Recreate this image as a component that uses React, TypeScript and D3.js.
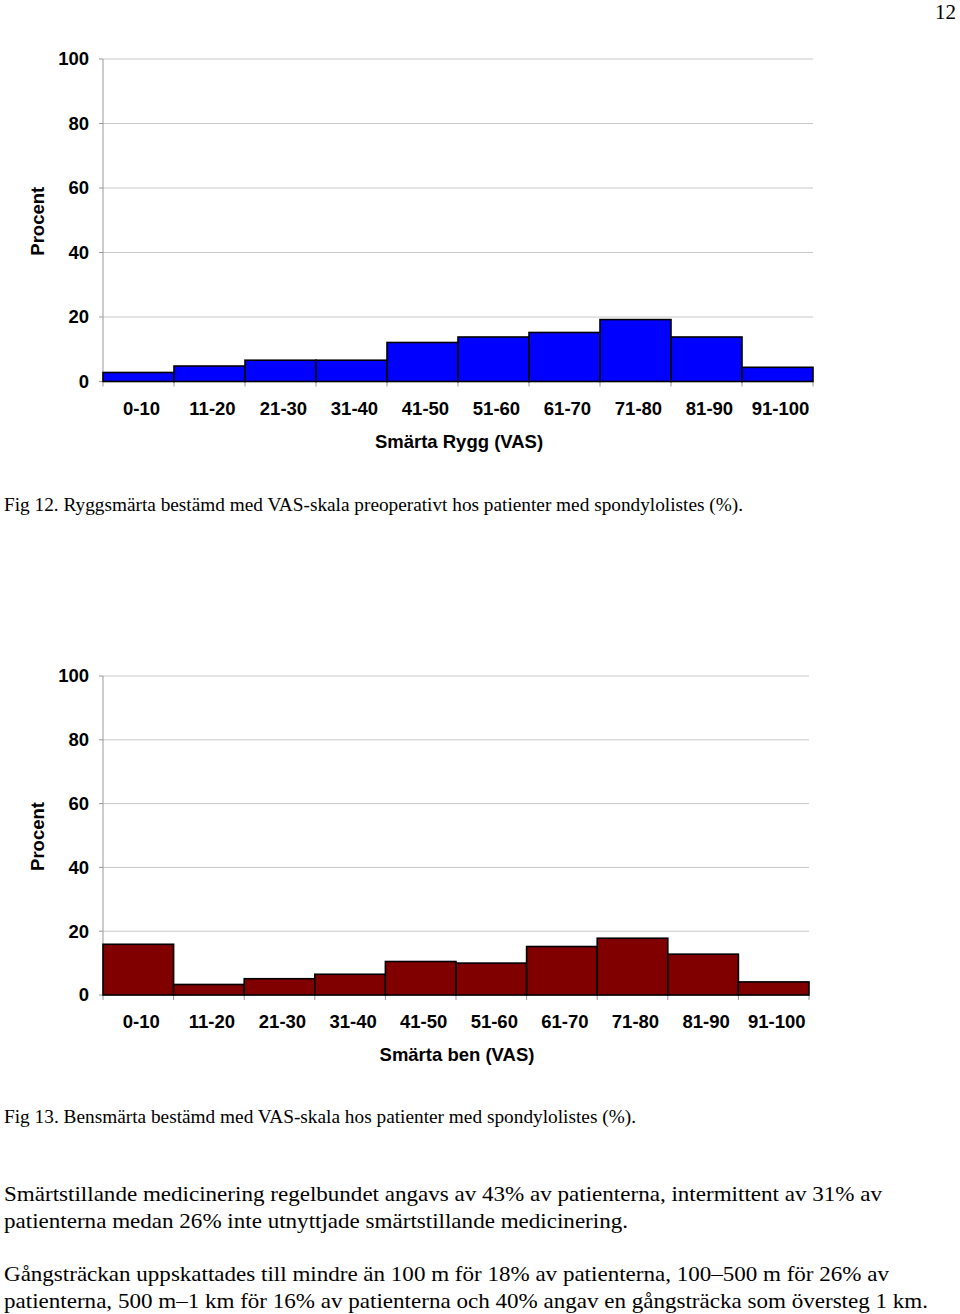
import React from "react";
import * as d3 from "d3";

const categories = ["0-10", "11-20", "21-30", "31-40", "41-50", "51-60", "61-70", "71-80", "81-90", "91-100"];
const ryggValues = [2.8, 4.8, 6.6, 6.6, 12.1, 13.8, 15.2, 19.2, 13.8, 4.4];
const benValues = [15.9, 3.3, 5.1, 6.5, 10.5, 10.0, 15.2, 17.8, 12.8, 4.1];
const yTicks = [0, 20, 40, 60, 80, 100];

const captionFig12 = "Fig 12. Ryggsmärta bestämd med VAS-skala preoperativt hos patienter med spondylolistes (%).";
const captionFig13 = "Fig 13. Bensmärta bestämd med VAS-skala hos patienter med spondylolistes (%).";
const paragraph1 = [
  "Smärtstillande medicinering regelbundet angavs av 43% av patienterna, intermittent av 31% av",
  "patienterna medan 26% inte utnyttjade smärtstillande medicinering.",
];
const paragraph2 = [
  "Gångsträckan uppskattades till mindre än 100 m för 18% av patienterna, 100–500 m för 26% av",
  "patienterna, 500 m–1 km för 16% av patienterna och 40% angav en gångsträcka som översteg 1 km.",
];
const paragraph1Widths = [878, 624];
const paragraph2Widths = [885, 924];

const SANS = "'Liberation Sans', Arial, sans-serif";
const SERIF = "'Liberation Serif', 'Times New Roman', serif";
const SANS_SIZE = 18.5;

type HistProps = {
  values: number[];
  color: string;
  x0: number;
  x1: number;
  yTop: number;
  yBottom: number;
  title: string;
};

function Histogram({ values, color, x0, x1, yTop, yBottom, title }: HistProps) {
  const x = d3.scaleBand<string>().domain(categories).range([x0, x1]).padding(0);
  const y = d3.scaleLinear().domain([0, 100]).range([yBottom, yTop]);
  const bw = x.bandwidth();
  return (
    <g>
      {yTicks.map((t) => (
        <g key={t}>
          {t > 0 && (
            <line x1={x0} x2={x1} y1={y(t)} y2={y(t)} stroke="#c8c8c8" strokeWidth={1} />
          )}
          <line x1={x0 - 4} x2={x0} y1={y(t)} y2={y(t)} stroke="#999" strokeWidth={1} />
          <text
            x={89}
            y={y(t)}
            dy="0.35em"
            textAnchor="end"
            fontFamily={SANS}
            fontWeight="bold"
            fontSize={SANS_SIZE}
            fill="#000"
          >
            {t}
          </text>
        </g>
      ))}
      <line x1={x0} x2={x0} y1={yTop} y2={yBottom} stroke="#999" strokeWidth={1} />
      <line x1={x0} x2={x1} y1={yBottom} y2={yBottom} stroke="#999" strokeWidth={1} />
      {categories.map((c) => (
        <line key={"t" + c} x1={x(c)!} x2={x(c)!} y1={yBottom} y2={yBottom + 5} stroke="#999" />
      ))}
      <line x1={x1} x2={x1} y1={yBottom} y2={yBottom + 5} stroke="#999" />
      {values.map((v, i) => (
        <rect
          key={i}
          x={x(categories[i])!}
          y={y(v)}
          width={bw}
          height={y(0) - y(v)}
          fill={color}
          stroke="#000"
          strokeWidth={1.6}
        />
      ))}
      {categories.map((c) => (
        <text
          key={"l" + c}
          x={x(c)! + bw / 2 + 3}
          y={yBottom + 33}
          textAnchor="middle"
          fontFamily={SANS}
          fontWeight="bold"
          fontSize={SANS_SIZE}
        >
          {c}
        </text>
      ))}
      <text
        x={(x0 + x1) / 2 + 1}
        y={yBottom + 66}
        textAnchor="middle"
        fontFamily={SANS}
        fontWeight="bold"
        fontSize={SANS_SIZE}
      >
        {title}
      </text>
      <text
        transform={`translate(44, ${(yTop + yBottom) / 2 + 1}) rotate(-90)`}
        textAnchor="middle"
        fontFamily={SANS}
        fontWeight="bold"
        fontSize={SANS_SIZE}
      >
        Procent
      </text>
    </g>
  );
}

export default function App() {
  return (
    <svg
      width={960}
      height={1314}
      style={{ position: "absolute", left: 0, top: 0, background: "#fff" }}
    >
      <rect x={0} y={0} width={960} height={1314} fill="#fff" />
      <text x={956} y={19} textAnchor="end" fontFamily={SERIF} fontSize={21}>
        12
      </text>
      <Histogram
        values={ryggValues}
        color="#0000ff"
        x0={103}
        x1={813}
        yTop={59}
        yBottom={381.5}
        title="Smärta Rygg (VAS)"
      />
      <text
        x={4}
        y={511}
        fontFamily={SERIF}
        fontSize={19}
        textLength={739}
        lengthAdjust="spacingAndGlyphs"
      >
        {captionFig12}
      </text>
      <Histogram
        values={benValues}
        color="#800000"
        x0={103}
        x1={809}
        yTop={676}
        yBottom={995}
        title="Smärta ben (VAS)"
      />
      <text
        x={4}
        y={1123}
        fontFamily={SERIF}
        fontSize={19}
        textLength={632}
        lengthAdjust="spacingAndGlyphs"
      >
        {captionFig13}
      </text>
      {paragraph1.map((line, i) => (
        <text
          key={"p1" + i}
          x={4}
          y={1201 + i * 27}
          fontFamily={SERIF}
          fontSize={21.5}
          textLength={paragraph1Widths[i]}
          lengthAdjust="spacingAndGlyphs"
        >
          {line}
        </text>
      ))}
      {paragraph2.map((line, i) => (
        <text
          key={"p2" + i}
          x={4}
          y={1281 + i * 27}
          fontFamily={SERIF}
          fontSize={21.5}
          textLength={paragraph2Widths[i]}
          lengthAdjust="spacingAndGlyphs"
        >
          {line}
        </text>
      ))}
    </svg>
  );
}
